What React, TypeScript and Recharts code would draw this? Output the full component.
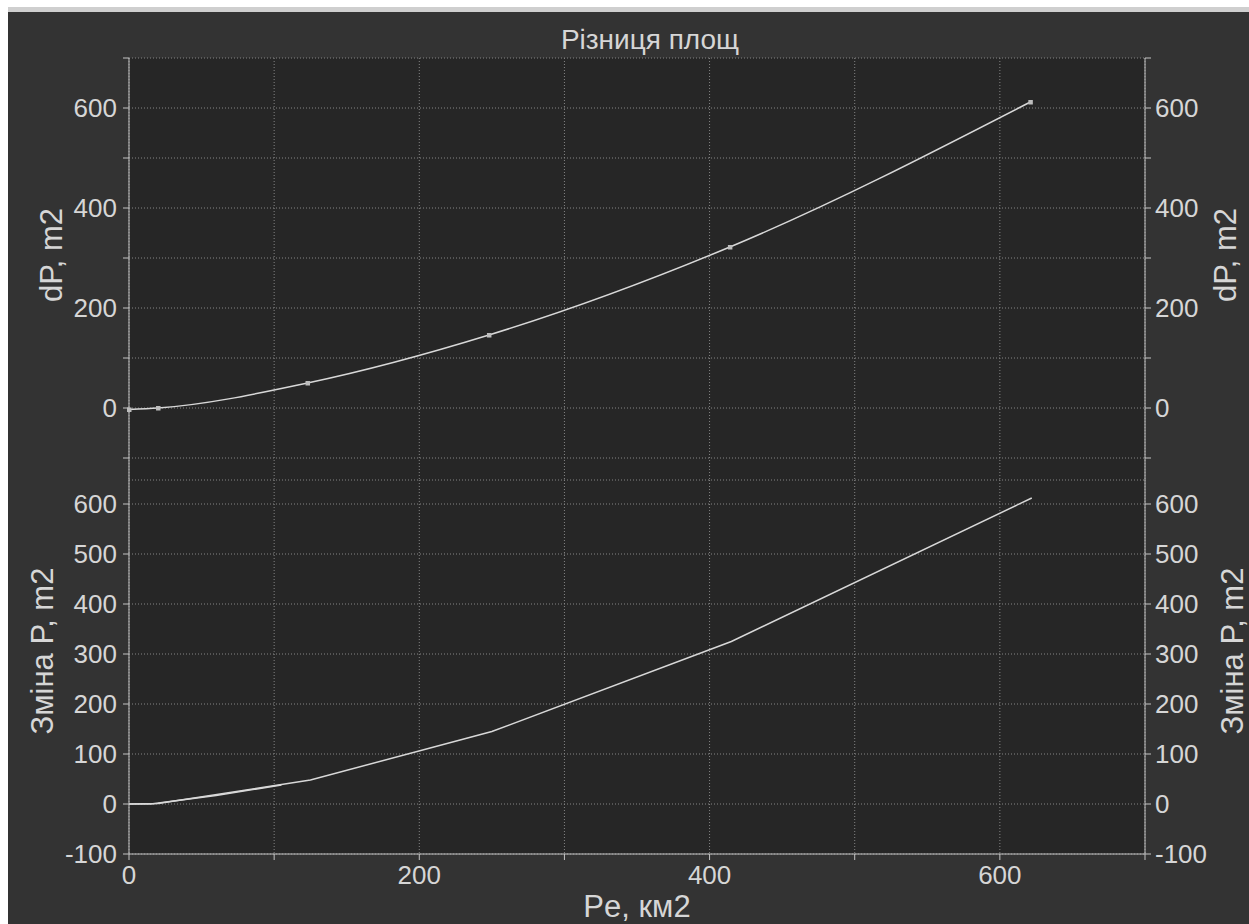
import React from "react";
import { CartesianGrid, Label, Line, LineChart, XAxis, YAxis } from "recharts";

// площа Pe, км2 -> різниця dP, m2 (верхня панель, точки з маркерами)
const dpPoints = [
  { pe: 0, dp: -3 },
  { pe: 20, dp: 0 },
  { pe: 123, dp: 50 },
  { pe: 248, dp: 146 },
  { pe: 414, dp: 322 },
  { pe: 621, dp: 612 },
];

// нижня панель: зміна P (ламана) і короткий ряд біля нуля
const changePoints = [
  { pe: 0, change: 0 },
  { pe: 20, change: 1 },
  { pe: 125, change: 48 },
  { pe: 250, change: 145 },
  { pe: 415, change: 325 },
  { pe: 622, change: 612 },
];
const changeStart = [
  { pe: 0, change: 0 },
  { pe: 15, change: 0 },
  { pe: 60, change: 17 },
  { pe: 105, change: 38 },
];

const xTicks = [0, 100, 200, 300, 400, 500, 600, 700];
const topTicks = [-100, 0, 100, 200, 300, 400, 500, 600, 700];
const bottomTicks = [-100, 0, 100, 200, 300, 400, 500, 600];

const FONT = '"Liberation Sans", Arial, sans-serif';
const TEXT = "#d6d6d6";
const AXIS = "#c4c4c4";
const LINE = "#d8d8d8";
const GRID = "#858585";
const tickStyle = { fill: TEXT, fontSize: 26, fontFamily: FONT };

const evenOnly = (v: number) => (v % 200 === 0 ? String(v) : "");
const asIs = (v: number) => String(v);

function yTick(fmt: (v: number) => string) {
  return (props: any) => (
    <text
      x={props.x}
      y={props.y}
      dy="0.36em"
      textAnchor={props.textAnchor}
      fill={TEXT}
      fontSize={26}
      fontFamily={FONT}
    >
      {fmt(props.payload.value)}
    </text>
  );
}

function axisTitle(text: string, dx: number, dy: number) {
  return (props: any) => {
    const vb = props.viewBox || {};
    const cx = vb.x + dx;
    const cy = vb.y + vb.height / 2 + dy;
    return (
      <text
        x={cx}
        y={cy}
        transform={`rotate(-90 ${cx} ${cy})`}
        textAnchor="middle"
        fill={TEXT}
        fontSize={31}
        fontFamily={FONT}
      >
        {text}
      </text>
    );
  };
}

const squareDot = (p: any) => (
  <rect key={`d-${p.index}`} x={p.cx - 2} y={p.cy - 2} width={4.5} height={4.5} fill="#bdbdbd" />
);

const noTick = () => <g />;

export default function App() {
  return (
    <div style={{ position: "relative", width: 1249, height: 924, background: "#fff", overflow: "hidden", fontFamily: FONT }}>
      <style>{"body{margin:0;overflow:hidden}"}</style>
      <div style={{ position: "absolute", left: 8, top: 7, width: 1241, height: 5, background: "#cfcfcf" }} />
      <div style={{ position: "absolute", left: 8, top: 12, width: 1241, height: 912, background: "#333333" }} />
      <div
        style={{
          position: "absolute",
          left: 650,
          top: 26,
          transform: "translateX(-50%)",
          color: TEXT,
          fontSize: 28,
          lineHeight: "28px",
          whiteSpace: "nowrap",
        }}
      >
        Різниця площ
      </div>

      <div style={{ position: "absolute", left: 0, top: 0 }}>
        <LineChart width={1249} height={480} data={dpPoints} margin={{ top: 58, right: 0, bottom: 0, left: 0 }}>
          <CartesianGrid yAxisId="left" fill="#262626" stroke={GRID} strokeDasharray="1 2" />
          <XAxis
            dataKey="pe"
            type="number"
            orientation="top"
            domain={[0, 700]}
            ticks={xTicks}
            height={0}
            tick={noTick}
            tickLine={false}
            axisLine={{ stroke: AXIS }}
          />
          <YAxis
            yAxisId="left"
            type="number"
            domain={[-144, 700]}
            ticks={topTicks}
            width={129}
            interval={0}
            tick={yTick(evenOnly)}
            tickLine={{ stroke: AXIS }}
            axisLine={{ stroke: AXIS }}
            tickSize={6}
            tickMargin={6}
          >
            <Label content={axisTitle("dP, m2", 62, -14)} />
          </YAxis>
          <YAxis
            yAxisId="right"
            orientation="right"
            type="number"
            domain={[-144, 700]}
            ticks={topTicks}
            width={104}
            interval={0}
            tick={yTick(evenOnly)}
            tickLine={{ stroke: AXIS }}
            axisLine={{ stroke: AXIS }}
            tickSize={6}
            tickMargin={4}
          >
            <Label content={axisTitle("dP, m2", 91, -14)} />
          </YAxis>
          <Line
            yAxisId="left"
            type="monotone"
            dataKey="dp"
            stroke={LINE}
            strokeWidth={1.5}
            dot={squareDot}
            activeDot={false}
            isAnimationActive={false}
          />
          {/* та сама крива на правій осі, щоб права шкала мала підписи */}
          <Line
            yAxisId="right"
            type="monotone"
            dataKey="dp"
            stroke="none"
            dot={false}
            activeDot={false}
            isAnimationActive={false}
          />
        </LineChart>
      </div>

      <div style={{ position: "absolute", left: 0, top: 480 }}>
        <LineChart width={1249} height={444} margin={{ top: 0, right: 0, bottom: 0, left: 0 }}>
          <CartesianGrid yAxisId="left" fill="#262626" stroke={GRID} strokeDasharray="1 2" />
          <XAxis
            dataKey="pe"
            type="number"
            domain={[0, 700]}
            ticks={xTicks}
            height={70}
            tickFormatter={evenOnly}
            tick={tickStyle}
            tickLine={{ stroke: AXIS }}
            axisLine={{ stroke: AXIS }}
            tickSize={6}
            tickMargin={6}
          >
            <Label value="Pe, км2" position="insideBottom" offset={7} fill={TEXT} fontSize={31} fontFamily={FONT} />
          </XAxis>
          <YAxis
            yAxisId="left"
            type="number"
            domain={[-100, 648]}
            ticks={bottomTicks}
            width={129}
            interval={0}
            tick={yTick(asIs)}
            tickLine={{ stroke: AXIS }}
            axisLine={{ stroke: AXIS }}
            tickSize={6}
            tickMargin={6}
          >
            <Label content={axisTitle("Зміна P, m2", 53, -16)} />
          </YAxis>
          <YAxis
            yAxisId="right"
            orientation="right"
            type="number"
            domain={[-100, 648]}
            ticks={bottomTicks}
            width={104}
            interval={0}
            tick={yTick(asIs)}
            tickLine={{ stroke: AXIS }}
            axisLine={{ stroke: AXIS }}
            tickSize={6}
            tickMargin={4}
          >
            <Label content={axisTitle("Зміна P, m2", 98, -16)} />
          </YAxis>
          <Line
            yAxisId="left"
            data={changeStart}
            type="linear"
            dataKey="change"
            stroke={LINE}
            strokeWidth={1.5}
            dot={false}
            activeDot={false}
            isAnimationActive={false}
          />
          <Line
            yAxisId="left"
            data={changePoints}
            type="linear"
            dataKey="change"
            stroke={LINE}
            strokeWidth={1.5}
            dot={false}
            activeDot={false}
            isAnimationActive={false}
          />
          <Line
            yAxisId="right"
            data={changePoints}
            type="linear"
            dataKey="change"
            stroke="none"
            dot={false}
            activeDot={false}
            isAnimationActive={false}
          />
        </LineChart>
      </div>
    </div>
  );
}
